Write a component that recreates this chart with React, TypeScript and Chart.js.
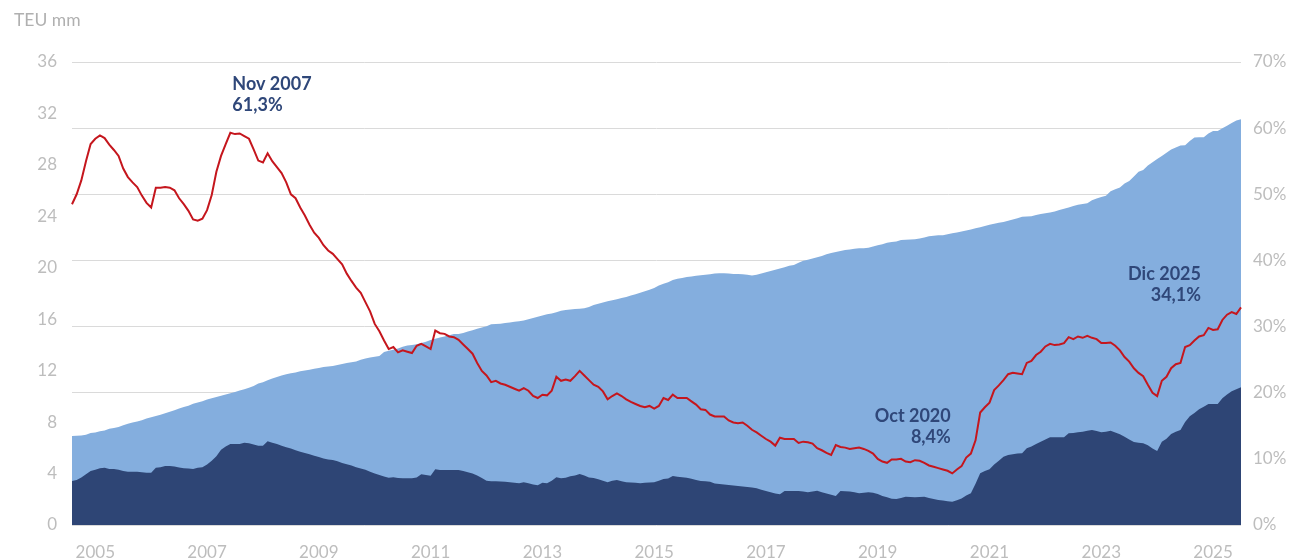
import React, { useEffect, useRef } from "react";
import { Chart, registerables } from "chart.js";

Chart.register(...registerables);

// Categories: monthly, Jan 2005 .. Dec 2025
const YEARS = [2005, 2006, 2007, 2008, 2009, 2010, 2011, 2012, 2013, 2014, 2015, 2016, 2017, 2018, 2019, 2020, 2021, 2022, 2023, 2024, 2025];
const MONTHS = ["Ene", "Feb", "Mar", "Abr", "May", "Jun", "Jul", "Ago", "Sep", "Oct", "Nov", "Dic"];
const LABELS: string[] = [];
YEARS.forEach((y) => MONTHS.forEach((m) => LABELS.push(`${m} ${y}`)));

// x-axis tick labels shown (at June of these years)
const X_TICK_YEARS = ["2005", "2007", "2009", "2011", "2013", "2015", "2017", "2019", "2021", "2023", "2025"];
const X_TICK_MONTH = "Jun";

// Fleet capacity (TEU mm) - light blue area
const FLEET = [
  6.92, 6.94, 6.95, 7.02, 7.15, 7.20, 7.28, 7.35, 7.48, 7.55, 7.62, 7.75,
  7.88, 7.97, 8.05, 8.15, 8.28, 8.38, 8.48, 8.58, 8.68, 8.80, 8.92, 9.05,
  9.18, 9.28, 9.42, 9.52, 9.62, 9.75, 9.85, 9.95, 10.05, 10.15, 10.25, 10.35,
  10.45, 10.55, 10.68, 10.80, 11.00, 11.10, 11.25, 11.40, 11.50, 11.62, 11.72, 11.80,
  11.85, 11.95, 12.02, 12.08, 12.15, 12.20, 12.28, 12.32, 12.36, 12.45, 12.52, 12.60,
  12.65, 12.72, 12.85, 12.95, 13.02, 13.08, 13.15, 13.45, 13.55, 13.62, 13.72, 13.85,
  13.95, 14.00, 14.05, 14.15, 14.25, 14.38, 14.48, 14.58, 14.65, 14.75, 14.85, 14.85,
  14.92, 15.05, 15.15, 15.25, 15.35, 15.45, 15.60, 15.62, 15.65, 15.70, 15.75, 15.80,
  15.85, 15.90, 16.00, 16.10, 16.20, 16.28, 16.38, 16.45, 16.55, 16.65, 16.72, 16.75,
  16.80, 16.82, 16.85, 16.95, 17.10, 17.20, 17.30, 17.40, 17.48, 17.55, 17.65, 17.72,
  17.85, 17.95, 18.05, 18.18, 18.30, 18.42, 18.62, 18.75, 18.88, 19.05, 19.15, 19.20,
  19.28, 19.33, 19.38, 19.42, 19.45, 19.50, 19.55, 19.57, 19.58, 19.55, 19.52, 19.52,
  19.50, 19.45, 19.40, 19.45, 19.55, 19.65, 19.75, 19.85, 19.95, 20.05, 20.15, 20.22,
  20.40, 20.55, 20.62, 20.72, 20.82, 20.92, 21.05, 21.15, 21.22, 21.30, 21.38, 21.42,
  21.48, 21.52, 21.52, 21.55, 21.65, 21.75, 21.82, 21.95, 22.00, 22.05, 22.16, 22.18,
  22.20, 22.22, 22.27, 22.35, 22.45, 22.50, 22.52, 22.53, 22.60, 22.68, 22.75, 22.83,
  22.90, 22.98, 23.07, 23.15, 23.25, 23.35, 23.42, 23.50, 23.56, 23.65, 23.75, 23.85,
  23.97, 23.98, 24.00, 24.10, 24.18, 24.24, 24.30, 24.38, 24.50, 24.58, 24.68, 24.80,
  24.90, 24.96, 25.02, 25.25, 25.38, 25.50, 25.60, 25.95, 26.10, 26.25, 26.55, 26.75,
  27.10, 27.47, 27.60, 27.95, 28.20, 28.45, 28.70, 28.95, 29.20, 29.35, 29.50, 29.52,
  29.85, 30.12, 30.15, 30.15, 30.45, 30.64, 30.64, 30.85, 31.05, 31.25, 31.45, 31.55,
];

// Orderbook (TEU mm) - dark blue area
const ORDERBOOK = [
  3.42, 3.50, 3.70, 3.95, 4.20, 4.30, 4.42, 4.45, 4.35, 4.35, 4.30, 4.20,
  4.15, 4.15, 4.15, 4.10, 4.07, 4.07, 4.45, 4.50, 4.58, 4.59, 4.55, 4.48,
  4.42, 4.40, 4.35, 4.45, 4.50, 4.70, 5.00, 5.35, 5.85, 6.10, 6.30, 6.30,
  6.30, 6.40, 6.35, 6.25, 6.17, 6.17, 6.51, 6.40, 6.30, 6.17, 6.05, 5.95,
  5.82, 5.70, 5.60, 5.50, 5.38, 5.28, 5.18, 5.10, 5.05, 4.95, 4.82, 4.72,
  4.62, 4.50, 4.40, 4.30, 4.15, 4.00, 3.89, 3.78, 3.68, 3.71, 3.65, 3.63,
  3.63, 3.63, 3.70, 3.94, 3.88, 3.83, 4.33, 4.28, 4.28, 4.28, 4.28, 4.28,
  4.20, 4.10, 4.00, 3.85, 3.65, 3.45, 3.40, 3.40, 3.38, 3.37, 3.32, 3.28,
  3.24, 3.32, 3.25, 3.15, 3.10, 3.29, 3.24, 3.45, 3.71, 3.63, 3.68, 3.80,
  3.85, 3.97, 3.85, 3.70, 3.65, 3.55, 3.45, 3.32, 3.45, 3.50, 3.40, 3.32,
  3.30, 3.28, 3.24, 3.28, 3.30, 3.32, 3.45, 3.58, 3.62, 3.81, 3.75, 3.72,
  3.68, 3.60, 3.50, 3.42, 3.40, 3.36, 3.22, 3.18, 3.15, 3.11, 3.08, 3.04,
  3.00, 2.96, 2.92, 2.85, 2.75, 2.65, 2.55, 2.45, 2.40, 2.64, 2.64, 2.64,
  2.64, 2.60, 2.54, 2.60, 2.67, 2.55, 2.45, 2.36, 2.26, 2.64, 2.62, 2.60,
  2.55, 2.46, 2.50, 2.54, 2.50, 2.41, 2.25, 2.15, 2.05, 2.02, 2.10, 2.20,
  2.18, 2.15, 2.18, 2.20, 2.10, 2.02, 1.95, 1.90, 1.85, 1.81, 1.92, 2.07,
  2.30, 2.46, 3.20, 4.02, 4.20, 4.33, 4.70, 5.00, 5.30, 5.44, 5.50, 5.55,
  5.58, 5.96, 6.10, 6.30, 6.48, 6.65, 6.82, 6.82, 6.82, 6.82, 7.13, 7.15,
  7.22, 7.26, 7.32, 7.39, 7.30, 7.21, 7.26, 7.33, 7.20, 7.05, 6.87, 6.65,
  6.45, 6.40, 6.35, 6.20, 5.95, 5.75, 6.48, 6.70, 7.08, 7.25, 7.39, 8.00,
  8.45, 8.70, 9.00, 9.20, 9.41, 9.41, 9.41, 9.85, 10.15, 10.40, 10.55, 10.71,
];

// Orderbook / fleet (%) - red line, right axis
const RATIO = [
  48.5, 50.0, 52.1, 55.0, 57.6, 58.4, 58.9, 58.5, 57.5, 56.7, 55.8, 53.9,
  52.6, 51.8, 51.1, 49.8, 48.7, 48.0, 51.0, 51.0, 51.1, 51.0, 50.6, 49.4,
  48.5, 47.5, 46.2, 46.0, 46.3, 47.6, 49.9, 53.4, 55.8, 57.6, 59.3, 59.1,
  59.2, 58.8, 58.4, 56.8, 55.1, 54.8, 56.2, 55.0, 54.1, 53.2, 51.8, 50.0,
  49.4, 48.0, 46.8, 45.4, 44.2, 43.4, 42.3, 41.5, 41.0, 40.2, 39.4, 38.0,
  36.9, 35.9, 35.1, 33.7, 32.3, 30.4, 29.3, 27.9, 26.6, 26.9, 26.1, 26.4,
  26.2, 26.0, 27.1, 27.4, 27.0, 26.6, 29.4, 29.0, 28.9, 28.5, 28.4, 28.0,
  27.3, 26.6, 25.9, 24.5, 23.3, 22.6, 21.6, 21.8, 21.4, 21.2, 20.9, 20.6,
  20.3, 20.7, 20.3, 19.5, 19.2, 19.7, 19.6, 20.3, 22.4, 21.8, 22.0, 21.8,
  22.5, 23.3, 22.6, 21.9, 21.2, 20.9, 20.2, 19.0, 19.5, 19.9, 19.5, 19.0,
  18.6, 18.3, 18.0, 17.8, 18.0, 17.6, 18.0, 19.2, 18.9, 19.7, 19.2, 19.2,
  19.2, 18.7, 18.2, 17.5, 17.4, 16.7, 16.4, 16.4, 16.4, 15.8, 15.5, 15.4,
  15.5, 15.0, 14.4, 14.0, 13.5, 13.0, 12.6, 12.0, 13.2, 13.0, 13.0, 13.0,
  12.4, 12.6, 12.5, 12.3, 11.6, 11.3, 10.9, 10.6, 12.1, 11.8, 11.7, 11.5,
  11.6, 11.7, 11.5, 11.2, 10.8, 10.0, 9.6, 9.4, 9.9, 9.9, 10.0, 9.6,
  9.5, 9.8, 9.7, 9.4, 9.0, 8.8, 8.6, 8.4, 8.2, 7.8, 8.4, 8.9,
  10.2, 10.8, 12.8, 17.0, 17.8, 18.5, 20.4, 21.1, 21.9, 22.8, 23.0, 22.9,
  22.8, 24.5, 24.8, 25.7, 26.2, 27.0, 27.4, 27.2, 27.3, 27.5, 28.4, 28.1,
  28.5, 28.3, 28.6, 28.3, 28.1, 27.5, 27.5, 27.6, 27.1, 26.4, 25.4, 24.7,
  23.7, 23.0, 22.5, 21.2, 20.0, 19.5, 21.8, 22.4, 23.7, 24.3, 24.5, 26.9,
  27.2, 27.9, 28.5, 28.7, 29.8, 29.5, 29.6, 31.0, 31.8, 32.2, 31.9, 32.9,
];

const LEFT_TICKS_MAX = 36;
const RIGHT_TICKS_MAX = 70;

const ANNOTATIONS = [
  { label: "Nov 2007", value: "61,3%", align: "left", dx: 2, dy: -49 },
  { label: "Oct 2020", value: "8,4%", align: "right", dx: -1.5, dy: -57.5 },
  { label: "Dic 2025", value: "34,1%", align: "right", dx: -40, dy: -33.5 },
];

const LIGHT = "#84AEDE";
const DARK = "#2E4575";
const RED = "#C5161D";
const TEXT_DARK = "#2F4779";
const TICK = "#BDBDBD";
const GRID = "#DADADA";
const FONT = "Lato, 'Open Sans', sans-serif";

const annotationPlugin = {
  id: "annotationsText",
  afterDraw(chart: any) {
    const ctx = chart.ctx;
    ctx.save();
    // axis unit label
    ctx.font = `17.5px ${FONT}`;
    ctx.fillStyle = "#B0B0B0";
    ctx.textAlign = "left";
    ctx.textBaseline = "middle";
    ctx.fillText("TEU mm", 14, 20);

    const meta = chart.getDatasetMeta(0);
    ctx.font = `bold 18px ${FONT}`;
    ctx.fillStyle = TEXT_DARK;
    ANNOTATIONS.forEach((a) => {
      const idx = LABELS.indexOf(a.label);
      const pt = meta.data[idx];
      if (!pt) return;
      ctx.textAlign = a.align;
      ctx.fillText(a.label, pt.x + a.dx, pt.y + a.dy);
      ctx.fillText(a.value, pt.x + a.dx, pt.y + a.dy + 21.5);
    });
    ctx.restore();
  },
};

export default function App() {
  const ref = useRef<HTMLCanvasElement>(null);
  useEffect(() => {
    document.body.style.margin = "0";
    const chart = new Chart(ref.current as HTMLCanvasElement, {
      type: "line",
      data: {
        labels: LABELS,
        datasets: [
          {
            label: "Orderbook / flota",
            data: RATIO,
            yAxisID: "y2",
            borderColor: RED,
            borderWidth: 2,
            fill: false,
            pointRadius: 0,
            order: 0,
          },
          {
            label: "Orderbook",
            data: ORDERBOOK,
            yAxisID: "y",
            backgroundColor: DARK,
            borderColor: "rgba(0,0,0,0)",
            borderWidth: 0,
            fill: "origin",
            pointRadius: 0,
            order: 1,
          },
          {
            label: "Flota",
            data: FLEET,
            yAxisID: "y",
            backgroundColor: LIGHT,
            borderColor: "rgba(0,0,0,0)",
            borderWidth: 0,
            fill: "origin",
            pointRadius: 0,
            order: 2,
          },
        ],
      },
      options: {
        responsive: false,
        animation: false,
        devicePixelRatio: 1,
        layout: { padding: { top: 62, left: 0, right: 0, bottom: 0 } },
        elements: { line: { tension: 0 }, point: { radius: 0 } },
        plugins: { legend: { display: false }, tooltip: { enabled: false } },
        scales: {
          x: {
            type: "category",
            grid: { display: false, drawTicks: false },
            border: { display: false },
            ticks: {
              autoSkip: false,
              maxRotation: 0,
              minRotation: 0,
              padding: 17,
              color: TICK,
              font: { family: FONT, size: 17 },
              callback: (_v: any, i: number) => {
                const [m, y] = LABELS[i].split(" ");
                return m === X_TICK_MONTH && X_TICK_YEARS.includes(y) ? y : null;
              },
            },
            afterFit: (s: any) => {
              s.height = 35;
            },
          },
          y: {
            position: "left",
            min: 0,
            max: LEFT_TICKS_MAX,
            grid: { display: false, drawTicks: false },
            border: { display: false },
            ticks: { stepSize: 4, padding: 15, color: TICK, font: { family: FONT, size: 17 } },
            afterFit: (s: any) => {
              s.width = 72;
            },
          },
          y2: {
            position: "right",
            min: 0,
            max: RIGHT_TICKS_MAX,
            grid: { color: GRID, lineWidth: 1, drawTicks: false },
            border: { display: false },
            ticks: {
              stepSize: 10,
              padding: 12,
              color: TICK,
              font: { family: FONT, size: 17 },
              callback: (v: any) => `${v}%`,
            },
            afterFit: (s: any) => {
              s.width = 67;
            },
          },
        },
      },
      plugins: [annotationPlugin],
    } as any);
    return () => chart.destroy();
  }, []);
  return <canvas ref={ref} width={1308} height={560} style={{ display: "block" }} />;
}
